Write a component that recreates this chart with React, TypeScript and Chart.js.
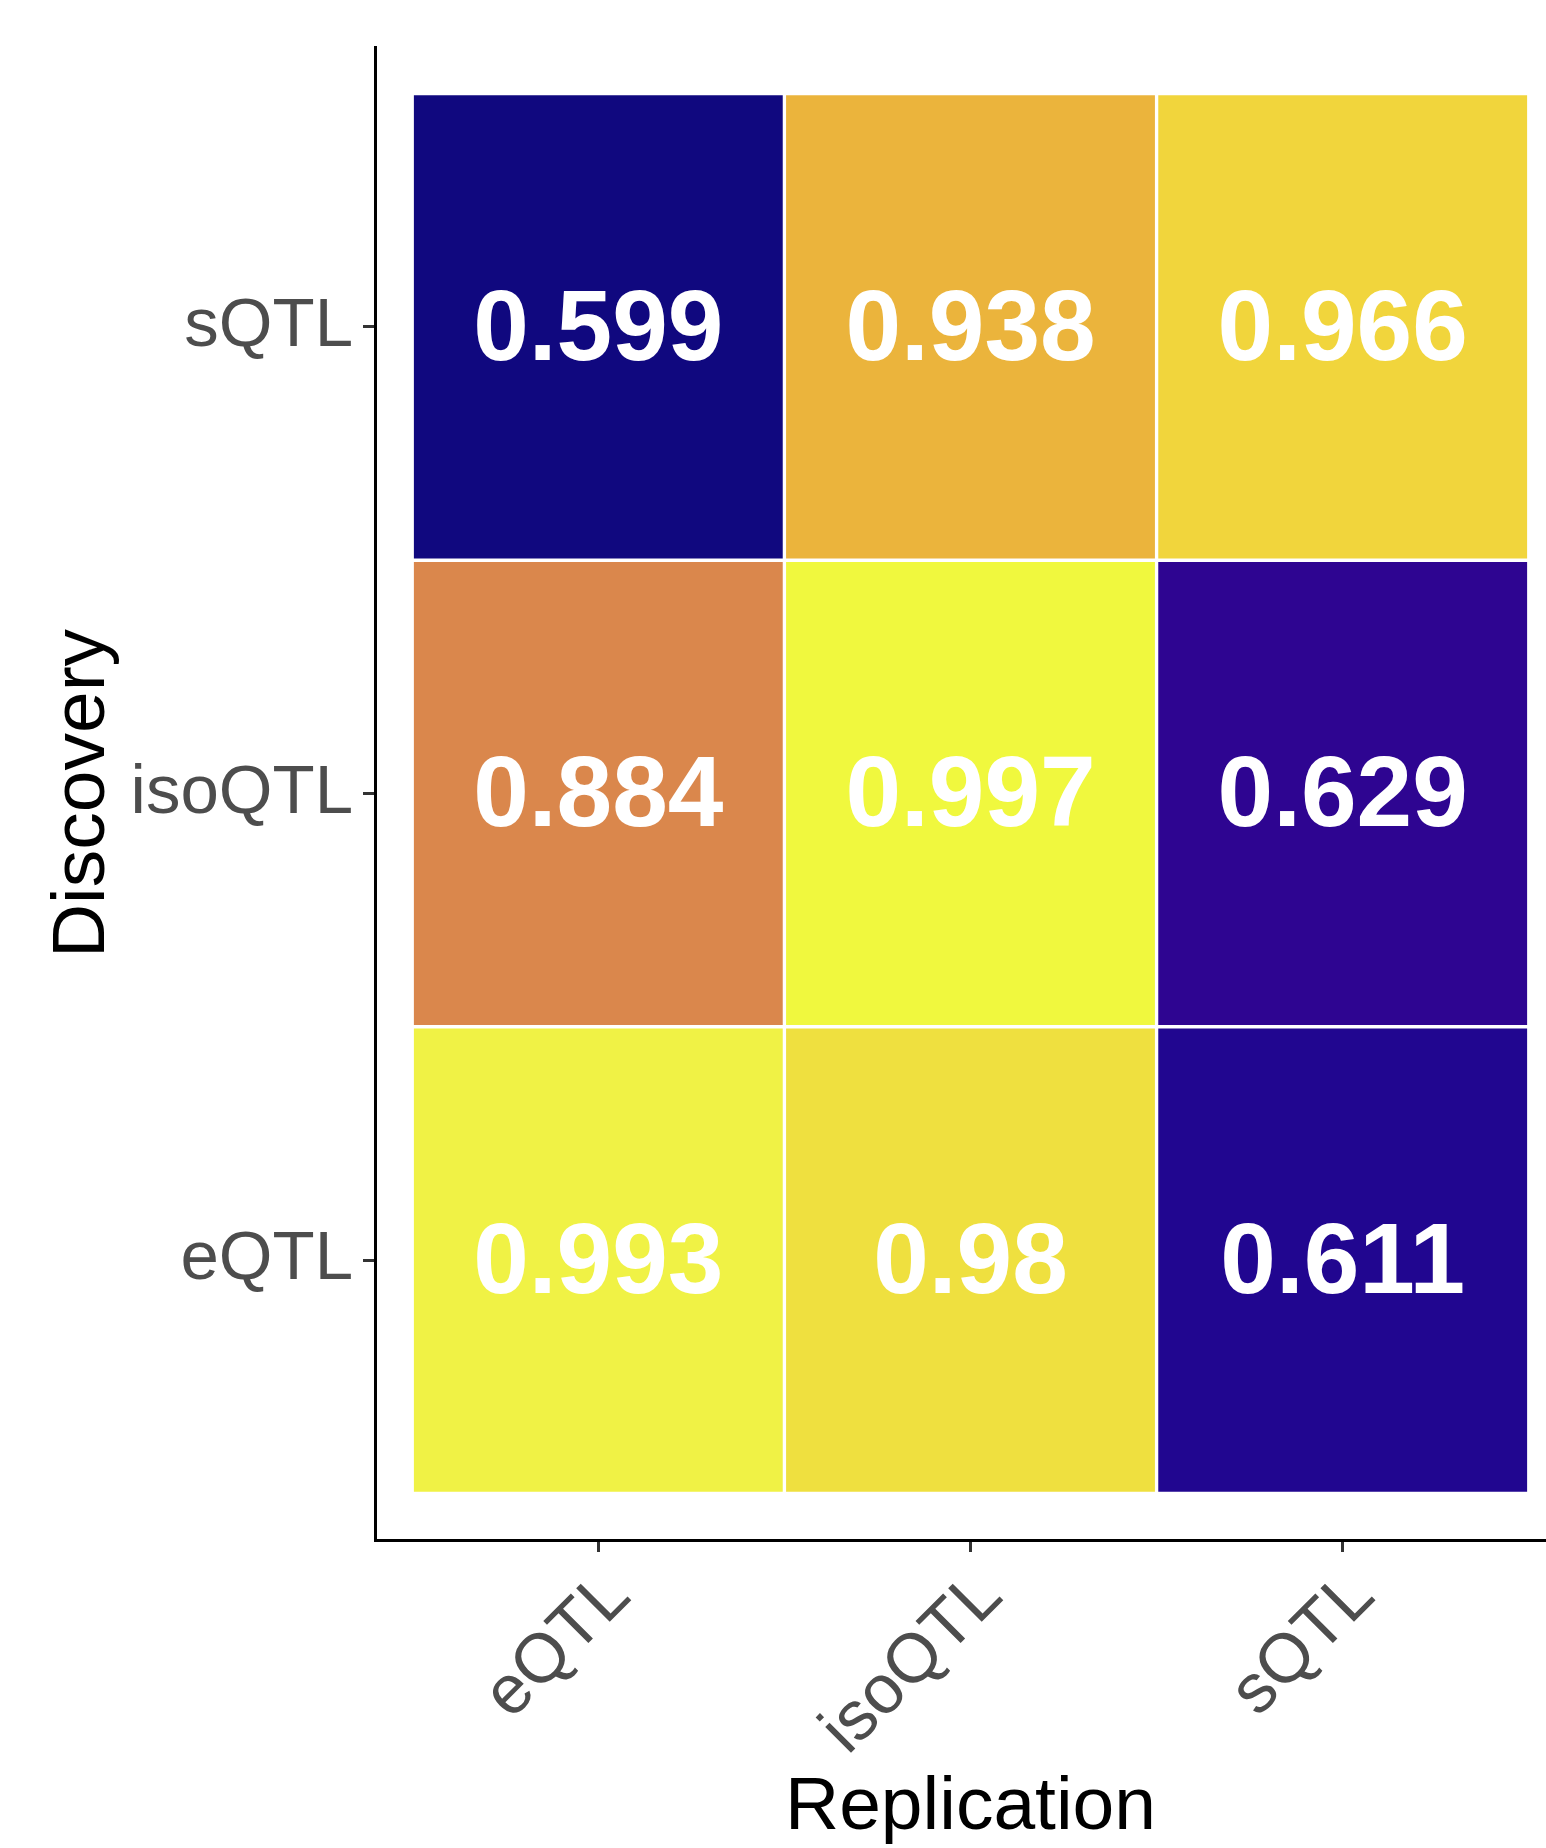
import React, { useEffect, useRef } from "react";
import { Chart, registerables } from "chart.js";

Chart.register(...registerables);

// Categories
const replicationLabels = ["eQTL", "isoQTL", "sQTL"];
const discoveryLabels = ["eQTL", "isoQTL", "sQTL"];

// Values per discovery row (columns follow replicationLabels)
const discoveryEQTL = [0.993, 0.98, 0.611];
const discoveryIsoQTL = [0.884, 0.997, 0.629];
const discoverySQTL = [0.599, 0.938, 0.966];

const rows = [discoveryEQTL, discoveryIsoQTL, discoverySQTL];

// Cell fill colours (as seen in the reference, plasma palette)
const cellColors = [
  ["#f0f245", "#efe03f", "#210690"],
  ["#da874c", "#f0f83e", "#2e0591"],
  ["#10087f", "#ebb43c", "#f1d53c"],
];

const FONT = "'Liberation Sans', Arial, Helvetica, sans-serif";

const cellLabelPlugin = {
  id: "cellLabels",
  afterDatasetsDraw(chart: any) {
    const { ctx, scales } = chart;
    const xs = scales.x;
    const ys = scales.y;
    ctx.save();
    ctx.fillStyle = "#ffffff";
    ctx.font = `bold 100px ${FONT}`;
    ctx.textAlign = "center";
    ctx.textBaseline = "middle";
    rows.forEach((vals, i) => {
      vals.forEach((v, j) => {
        const x = xs.getPixelForValue(j);
        const y = ys.getPixelForValue(i);
        ctx.fillText(String(v), x, y + 5);
      });
    });
    ctx.restore();
  },
};

export default function App() {
  const ref = useRef<HTMLCanvasElement | null>(null);

  useEffect(() => {
    if (!ref.current) return;
    const datasets = rows.map((vals, i) => ({
      label: discoveryLabels[i],
      data: vals.map((_v, j) => ({ x: j, y: [i - 0.5, i + 0.5] })),
      backgroundColor: cellColors[i],
      borderColor: "#ffffff",
      borderWidth: 2,
      borderSkipped: false as any,
      grouped: false,
      barPercentage: 1,
      categoryPercentage: 1,
    }));

    const chart = new Chart(ref.current, {
      type: "bar",
      data: { datasets: datasets as any },
      plugins: [cellLabelPlugin],
      options: {
        animation: false,
        responsive: false,
        layout: { padding: { top: 47, left: 0, right: 0, bottom: 0 } },
        plugins: { legend: { display: false }, tooltip: { enabled: false } },
        scales: {
          x: {
            type: "linear",
            offset: false,
            min: -0.6,
            max: 2.6,
            afterBuildTicks: (s: any) => {
              s.ticks = replicationLabels.map((_l, k) => ({ value: k }));
            },
            afterFit: (s: any) => {
              s.height = 308;
            },
            ticks: {
              autoSkip: false,
              minRotation: 45,
              maxRotation: 45,
              padding: 4,
              labelOffset: 21,
              color: "#4d4d4d",
              font: { family: FONT, size: 69 },
              callback: (v: any) => replicationLabels[Math.round(v)] ?? "",
            },
            grid: {
              offset: false,
              drawOnChartArea: false,
              drawTicks: true,
              tickLength: 12,
              tickWidth: 3,
              tickColor: "#333333",
            },
            border: { display: true, color: "#000000", width: 3 },
            title: {
              display: true,
              text: "Replication",
              color: "#000000",
              font: { family: FONT, size: 75, lineHeight: 1 },
              padding: { top: 0, bottom: 2 },
            },
          },
          y: {
            type: "linear",
            offset: false,
            min: -0.6,
            max: 2.6,
            afterBuildTicks: (s: any) => {
              s.ticks = discoveryLabels.map((_l, k) => ({ value: k }));
            },
            afterFit: (s: any) => {
              s.width = 375;
            },
            ticks: {
              autoSkip: false,
              padding: 10,
              color: "#4d4d4d",
              font: { family: FONT, size: 69, lineHeight: 1 },
              callback: (v: any) => discoveryLabels[Math.round(v)] ?? "",
            },
            grid: {
              offset: false,
              drawOnChartArea: false,
              drawTicks: true,
              tickLength: 12,
              tickWidth: 3,
              tickColor: "#333333",
            },
            border: { display: true, color: "#000000", width: 3 },
            title: {
              display: true,
              text: "Discovery",
              color: "#000000",
              font: { family: FONT, size: 75, lineHeight: 1 },
              padding: { top: 46, bottom: 0 },
            },
          },
        },
      } as any,
    });
    return () => chart.destroy();
  }, []);

  return (
    <div
      style={{
        position: "fixed",
        left: 0,
        top: 0,
        width: 1546,
        height: 1848,
        overflow: "hidden",
        background: "#ffffff",
      }}
    >
      <canvas ref={ref} width={1566} height={1848} style={{ display: "block" }} />
    </div>
  );
}
